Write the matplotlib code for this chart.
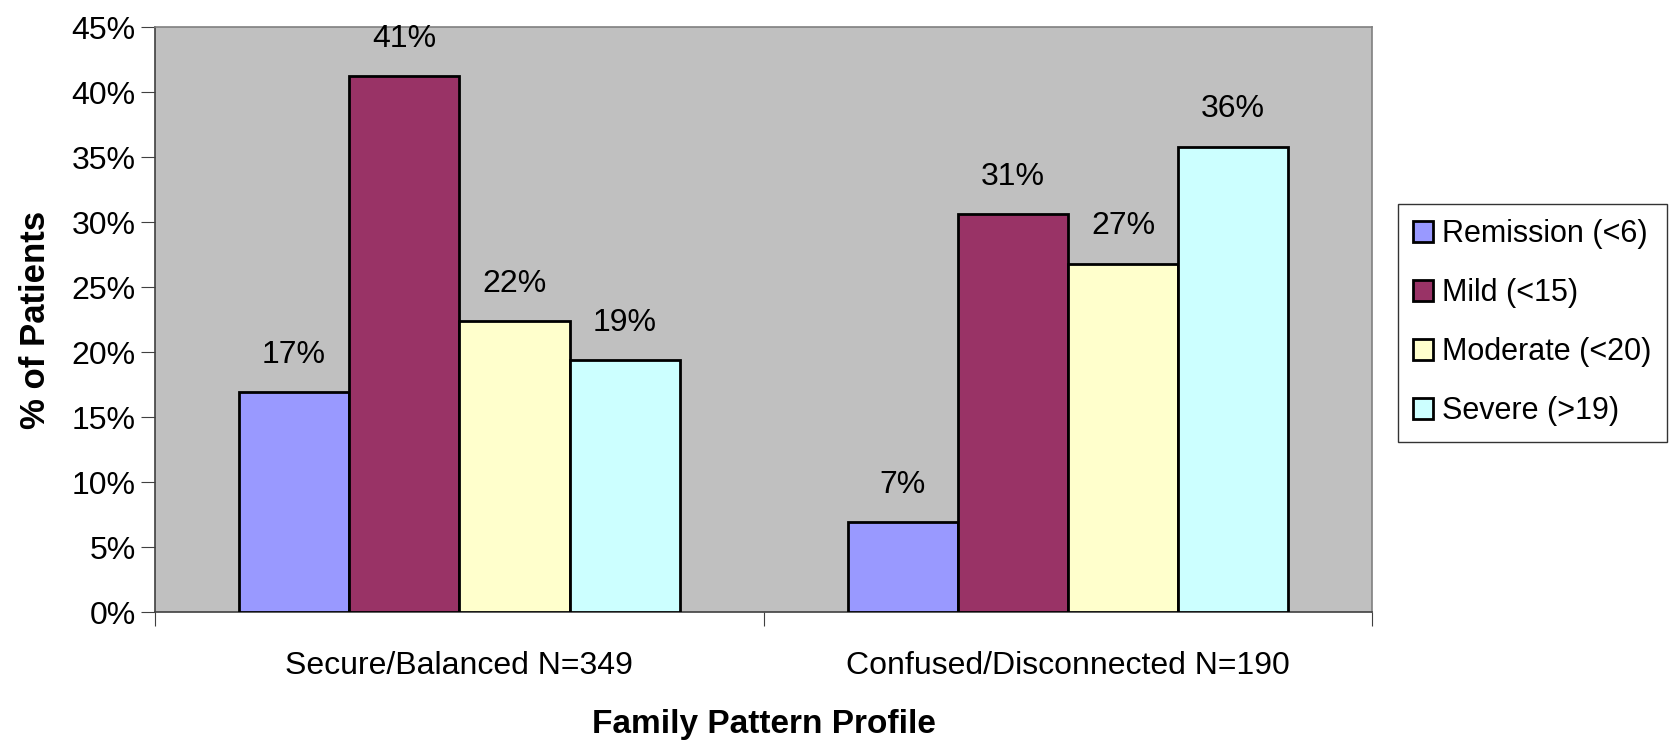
import numpy as np
import matplotlib
matplotlib.use("Agg")
import matplotlib.pyplot as plt

plt.rcParams['font.family'] = ['Liberation Sans', 'DejaVu Sans']

# data
groups = ['Secure/Balanced N=349', 'Confused/Disconnected N=190']
series = ['Remission (<6)', 'Mild (<15)', 'Moderate (<20)', 'Severe (>19)']
remission = [16.9, 6.9]
mild = [41.2, 30.6]
moderate = [22.4, 26.8]
severe = [19.4, 35.8]
labels_txt = [['17%', '7%'], ['41%', '31%'], ['22%', '27%'], ['19%', '36%']]
colors = ['#9999FF', '#993366', '#FFFFCC', '#CCFFFF']

fs = 23

fig = plt.figure(figsize=(16.69, 7.44), dpi=100)
ax = fig.add_axes([0.0929, 0.1774, 0.7293, 0.7863])
ax.set_facecolor('#C0C0C0')

x = np.arange(len(groups))
barWidth = 0.181
vals = [remission, mild, moderate, severe]
for i, v in enumerate(vals):
    pos = x + (i - 1.5) * barWidth
    bars = ax.bar(pos, v, width=barWidth, color=colors[i], edgecolor='black',
                  linewidth=2, label=series[i], zorder=3)
    for b, t in zip(bars, labels_txt[i]):
        ax.annotate(t, (b.get_x() + b.get_width() / 2, b.get_height()),
                    xytext=(0, 16), textcoords='offset points',
                    ha='center', va='bottom', fontsize=fs)

ax.set_xlim(-0.5, 1.5)
ax.set_ylim(0, 45)
ax.set_yticks(np.arange(0, 46, 5))
ax.set_yticklabels(['%d%%' % t for t in range(0, 46, 5)], fontsize=fs)
ax.set_xticks([-0.5, 0.5, 1.5])
ax.set_xticklabels([])
ax.set_xticks(x, minor=True)
ax.set_xticklabels(groups, minor=True, fontsize=fs)
ax.tick_params(axis='x', which='minor', length=0, pad=28)
ax.tick_params(axis='x', which='major', length=10, color='#404040', direction='out')
ax.tick_params(axis='y', length=10, color='#404040', direction='out', pad=4)

for s in ['left', 'bottom']:
    ax.spines[s].set_color('#404040')
    ax.spines[s].set_linewidth(1.2)
for s in ['top', 'right']:
    ax.spines[s].set_color('#808080')
    ax.spines[s].set_linewidth(1.2)

ax.set_ylabel('% of Patients', fontsize=25, fontweight='bold', labelpad=14)
ax.set_xlabel('Family Pattern Profile', fontsize=24, fontweight='bold', labelpad=20)

leg = fig.legend(loc='upper left', bbox_to_anchor=(1398 / 1669, 1 - 204 / 744),
                 fontsize=22, frameon=True, fancybox=False, edgecolor='black',
                 handlelength=0.65, handleheight=0.65, handletextpad=0.3,
                 labelspacing=0.95, borderpad=0.5, borderaxespad=0)
leg.get_frame().set_linewidth(1)

fig.savefig('out.png', dpi=100)
